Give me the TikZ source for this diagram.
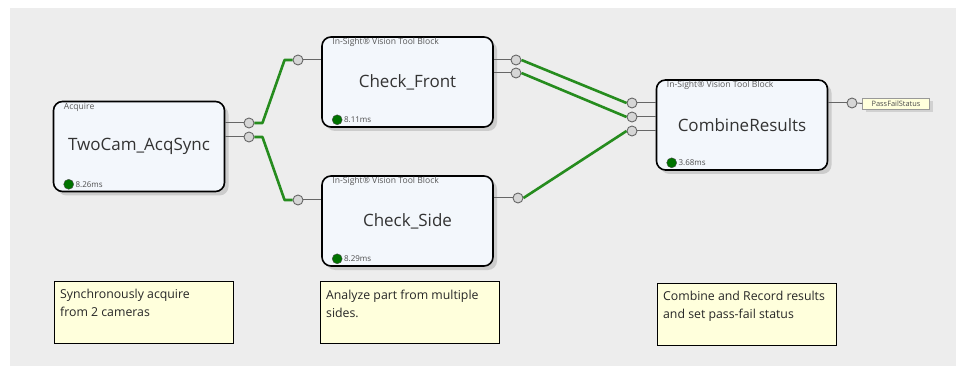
\documentclass[tikz,border=0pt]{standalone}
\usepackage{fontspec}
\setmainfont{Open Sans}
\usetikzlibrary{shadows}
\definecolor{canvasgray}{gray}{0.93}
\definecolor{blockfill}{RGB}{243,247,252}
\definecolor{wiregreen}{RGB}{38,140,30}
\definecolor{notefill}{RGB}{255,255,220}
\definecolor{portgray}{RGB}{214,214,214}
\newcommand{\notebody}[1]{\parbox[t][46pt][t]{168pt}{#1}}

\begin{document}
\begin{tikzpicture}[x=1pt, y=-1pt,
    block/.style = {draw, line width=1.6pt, rounded corners=9pt, fill=blockfill,
      minimum width=171pt, minimum height=90pt, inner sep=0pt, text=black!80,
      font=\fontsize{17}{20}\selectfont,
      drop shadow={shadow xshift=4pt, shadow yshift=-4pt, opacity=.3}},
    kind/.style = {anchor=north west, inner sep=0pt, text=black!65, font=\fontsize{8.6}{9}\selectfont},
    led/.style = {circle, draw=black!70, fill=green!45!black, minimum size=10pt, inner sep=0pt},
    ms/.style = {anchor=west, inner sep=1.5pt, text=black!70, font=\fontsize{8}{9}\selectfont},
    port/.style = {circle, draw=black!60, fill=portgray, line width=.9pt, minimum size=10pt, inner sep=0pt},
    stub/.style = {draw=black!60, line width=1pt},
    wire/.style = {draw=wiregreen, line width=2.6pt, line join=round},
    note/.style = {draw, line width=1.3pt, fill=notefill, anchor=north west, inner xsep=5pt, inner ysep=8pt,
      minimum width=179pt, minimum height=61pt, font=\fontsize{12.3}{18}\selectfont, text=black!85},
    outtag/.style = {draw=black!40, fill=notefill, inner sep=0pt, minimum width=67pt, minimum height=11pt,
      font=\fontsize{7.4}{8}\selectfont, text=black!70,
      drop shadow={shadow xshift=3pt, shadow yshift=-3pt, opacity=.25}}]

  % canvas
  \useasboundingbox (0,0) rectangle (963,371);
  \fill[white] (0,0) rectangle (963,371);
  \fill[canvasgray] (10,8) rectangle (956,366);

  % tool blocks
  \node[block] (acq)   at (139,146.5) {TwoCam\_AcqSync};
  \node[block] (front) at (407.5,82)  {Check\_Front};
  \node[block] (side)  at (407.5,221) {Check\_Side};
  \node[block] (comb)  at (742,125)   {CombineResults};

  \node[kind] at ([xshift=11pt,yshift=-2pt]acq.north west) {Acquire};
  \foreach \b in {front, side, comb}
    \node[kind] at ([xshift=11pt,yshift=-2pt]\b.north west) {In-Sight® Vision Tool Block};

  \foreach \b/\t in {acq/8.26ms, front/8.11ms, side/8.29ms, comb/3.68ms} {
    \node[led] (\b led) at ([xshift=16pt,yshift=8pt]\b.south west) {};
    \node[ms] at (\b led.east) {\t};
  }

  % ports
  \node[port] (acqout1)   at (249,123) {};
  \node[port] (acqout2)   at (249,137) {};
  \node[port] (frontin)   at (298,60)  {};
  \node[port] (sidein)    at (298,200) {};
  \node[port] (frontout1) at (516,60)  {};
  \node[port] (frontout2) at (516,73)  {};
  \node[port] (sideout)   at (518,198) {};
  \node[port] (combin1)   at (632,103) {};
  \node[port] (combin2)   at (632,117) {};
  \node[port] (combin3)   at (632,131) {};
  \node[port] (combout)   at (852,103) {};
  \node[outtag] (status)  at (896,103.5) {PassFailStatus};

  \foreach \p/\b in {acqout1/acq, acqout2/acq, frontout1/front, frontout2/front, sideout/side, combout/comb}
    \draw[stub] (\b.east |- \p) -- (\p.west);
  \foreach \p/\b in {frontin/front, sidein/side, combin1/comb, combin2/comb, combin3/comb}
    \draw[stub] (\p.east) -- (\b.west |- \p);
  \draw[stub] (combout.east) -- (status.west);

  % connections
  \draw[wire] (acqout1.east) -- ++(8,0) -- ([xshift=-8pt]frontin.west) -- (frontin.west);
  \draw[wire] (acqout2.east) -- ++(8,0) -- ([xshift=-8pt]sidein.west) -- (sidein.west);
  \draw[wire] (frontout1.east) -- (combin1.west);
  \draw[wire] (frontout2.east) -- (combin2.west);
  \draw[wire] (sideout.east) -- (combin3.west);

  % notes
  \node[note] (acqnote)   at (54,281)  {\notebody{Synchronously acquire\\from 2 cameras}};
  \node[note] (frontnote) at (320,281) {\notebody{Analyze part from multiple\\sides.}};
  \node[note] (combnote)  at (657,283) {\notebody{Combine and Record results\\and set pass-fail status}};
\end{tikzpicture}
\end{document}
